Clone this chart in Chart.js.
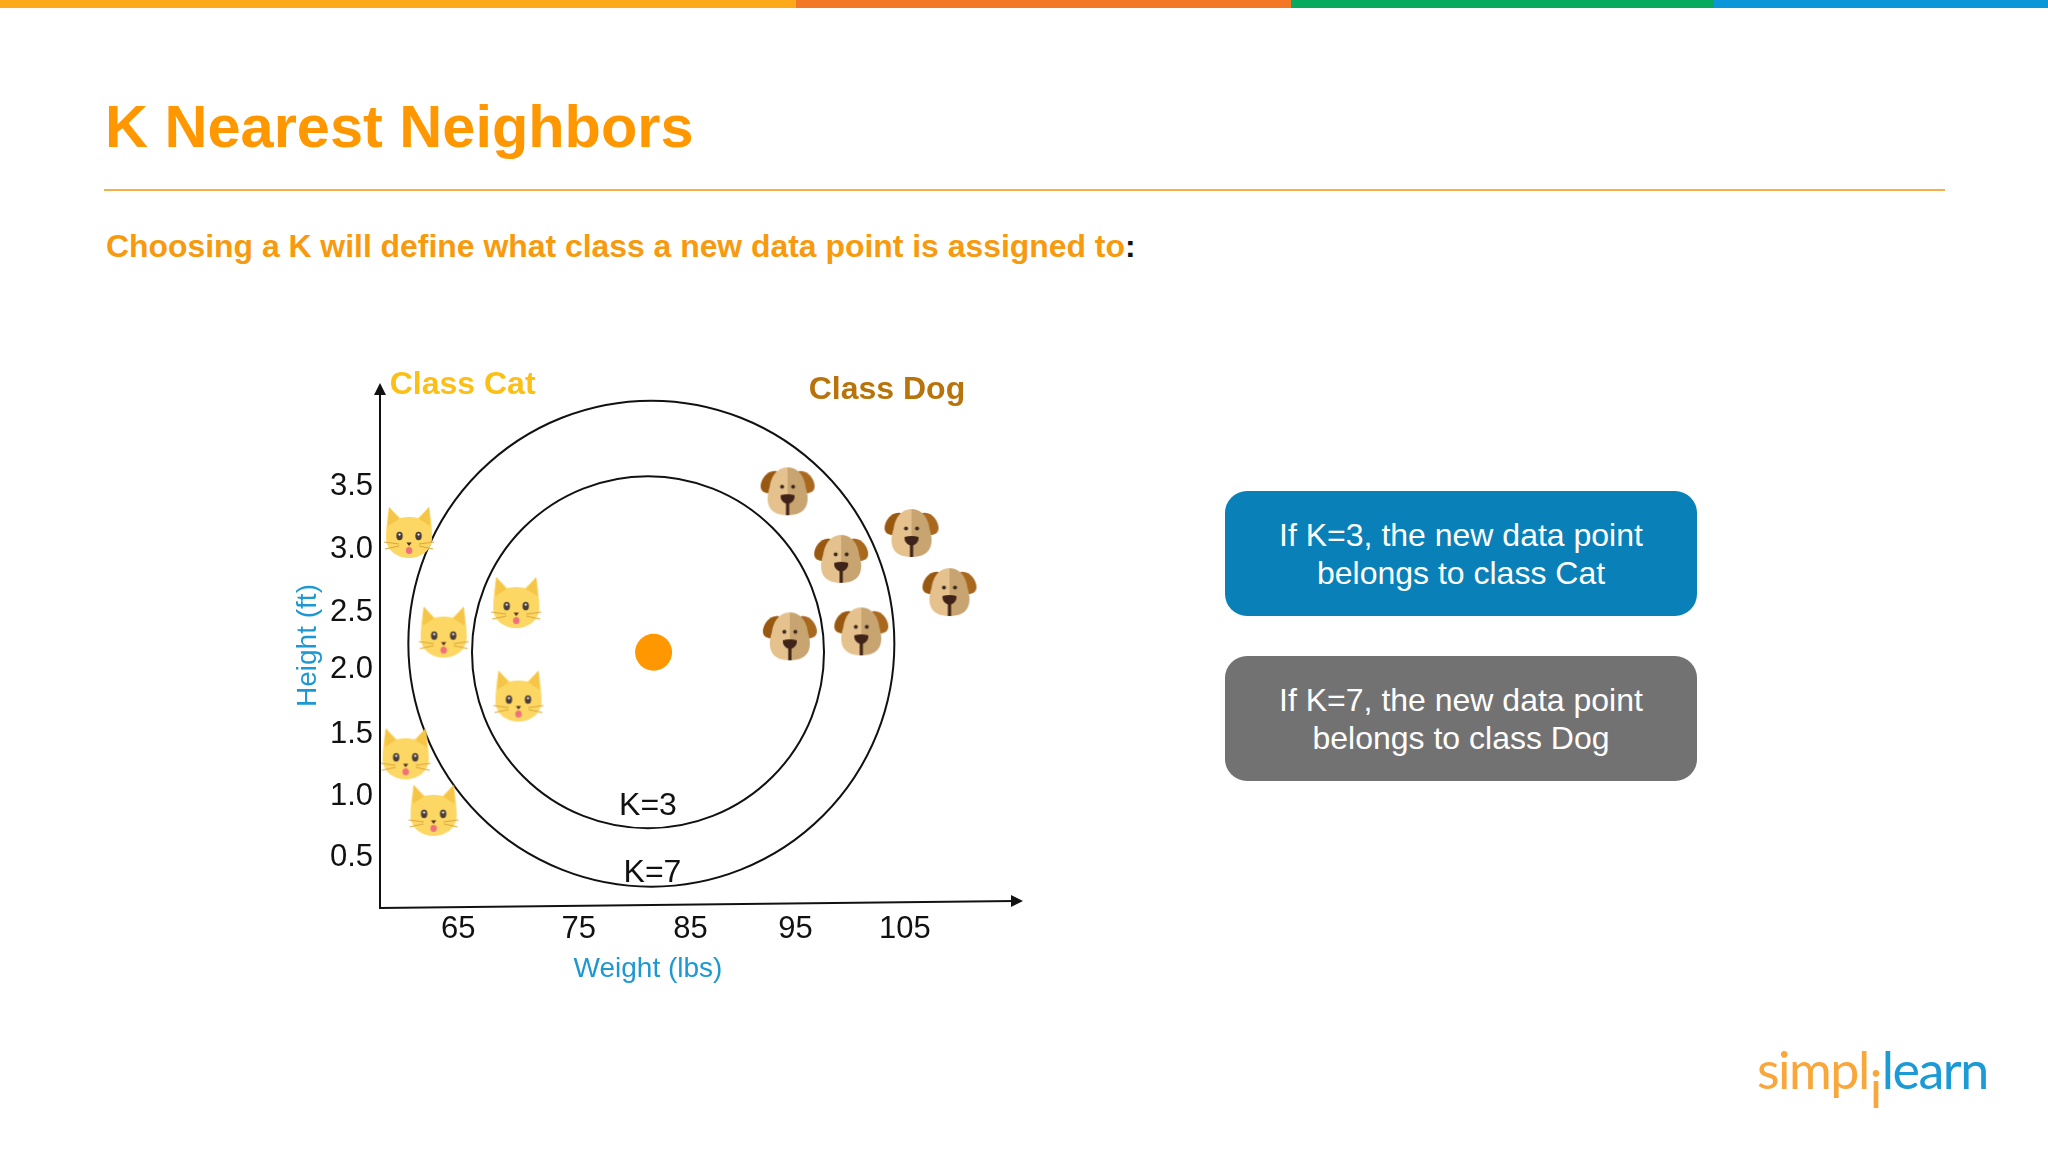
<!DOCTYPE html>
<html>
<head>
<meta charset="utf-8">
<title>K Nearest Neighbors</title>
<script src="https://cdn.jsdelivr.net/npm/chart.js@4"></script>
<style>
  html, body { margin: 0; padding: 0; background: #fff; }
  body { width: 2048px; height: 1152px; position: relative; overflow: hidden; font-family: "Liberation Sans", Arial, sans-serif; }
  .band { position: absolute; top: 0; height: 8px; }
  .title { position: absolute; left: 105px; top: 92px; font-size: 59.5px; line-height: 70px; font-weight: bold; color: #ff9800; white-space: nowrap; }
  .rule { position: absolute; left: 104px; width: 1841px; top: 189px; height: 2px; background: #f6b04a; }
  .subtitle { position: absolute; left: 106px; top: 226px; font-size: 31.9px; line-height: 40px; font-weight: bold; color: #f79a0e; white-space: nowrap; }
  .subtitle span { color: #111; }
  .box { position: absolute; left: 1225px; width: 472px; height: 125px; border-radius: 22px; color: #fff; font-size: 32px; line-height: 38px; text-align: center; display: flex; align-items: center; justify-content: center; }
  .logo { position: absolute; left: 1757px; top: 1038px; font-family: Lato, sans-serif; font-weight: 400; font-size: 52px; letter-spacing: -1.5px; line-height: 62px; white-space: nowrap; color: #f9a63a; }
  .logo i { font-style: normal; position: relative; top: 19px; margin: 0 1px; color: #f9a63a; }
  .logo b { font-weight: 400; color: #1b9ad6; }
  #chartWrap { position: absolute; left: 270px; top: 350px; width: 800px; height: 660px; }
</style>
</head>
<body>
<div class="band" style="left:0;width:796px;background:#fcaa1a"></div>
<div class="band" style="left:796px;width:495px;background:#f47725"></div>
<div class="band" style="left:1291px;width:423px;background:#05aa5e"></div>
<div class="band" style="left:1714px;width:334px;background:#0a96d9"></div>
<div class="title">K Nearest Neighbors</div>
<div class="rule"></div>
<div class="subtitle">Choosing a K will define what class a new data point is assigned to<span>:</span></div>
<div id="chartWrap"><canvas id="knnChart" width="800" height="660"></canvas></div>
<div class="box" style="top:491px;background:#0a80b8"><div>If K=3, the new data point<br>belongs to class Cat</div></div>
<div class="box" style="top:656px;background:#737273"><div>If K=7, the new data point<br>belongs to class Dog</div></div>
<div class="logo">simpl<i>i</i><b>learn</b></div>

<script>
const catX = [60.6, 63.7, 70.2, 70.4, 60.3, 62.8];
const catY = [3.11, 2.30, 2.54, 1.78, 1.31, 0.85];
const dogX = [94.5, 99.3, 105.6, 109.0, 94.7, 101.1];
const dogY = [3.45, 2.90, 3.11, 2.63, 2.27, 2.31];
const newPointX = [82.5];
const newPointY = [2.14];
const k3CenterX = [82.0];
const k3CenterY = [2.14];
const k7CenterX = [82.3];
const k7CenterY = [2.21];

const xTickLabels = ['65', '75', '85', '95', '105'];
const xTickSpots = [65, 75.8, 85.8, 95.2, 105];
const yTickLabels = ['0.5', '1.0', '1.5', '2.0', '2.5', '3.0', '3.5'];
const yTickSpots = [0.47, 0.97, 1.47, 2.0, 2.46, 2.98, 3.49];

const noteLabels = ['Class Cat', 'Class Dog', 'K=3', 'K=7'];
const noteX = [65.4, 103.4, 82.0, 82.4];
const noteY = [4.31, 4.27, 0.89, 0.34];
const noteColors = ['#fbbf16', '#b8740a', '#111', '#111'];
const noteWeights = ['bold', 'bold', 'normal', 'normal'];

const toPoints = (xs, ys) => xs.map((x, i) => ({ x, y: ys[i] }));

function makeIcon(draw) {
  const c = document.createElement('canvas');
  c.width = 64; c.height = 64;
  const g = c.getContext('2d');
  g.translate(32, 32);
  draw(g);
  return c;
}

function catShape(g) {
  g.beginPath();
  g.moveTo(-20, -26);
  g.lineTo(-9, -15);
  g.quadraticCurveTo(0, -17, 9, -15);
  g.lineTo(20, -26);
  g.quadraticCurveTo(23, -8, 23, 5);
  g.bezierCurveTo(23, 18, 11, 25, 0, 25);
  g.bezierCurveTo(-11, 25, -23, 18, -23, 5);
  g.quadraticCurveTo(-23, -8, -20, -26);
  g.closePath();
}

const catIcon = makeIcon(g => {
  catShape(g);
  g.fillStyle = '#fcd764';
  g.fill();
  // ear shading
  g.fillStyle = '#f5c548';
  g.beginPath(); g.moveTo(-20, -26); g.lineTo(-10, -14); g.lineTo(-21, -7); g.closePath(); g.fill();
  g.beginPath(); g.moveTo(20, -26); g.lineTo(10, -14); g.lineTo(21, -7); g.closePath(); g.fill();
  [-9.5, 9.5].forEach(ex => {
    g.fillStyle = '#4b3d38';
    g.beginPath(); g.ellipse(ex, 3, 3.2, 4.2, 0, 0, Math.PI * 2); g.fill();
    g.fillStyle = '#fff';
    g.beginPath(); g.arc(ex, 1.6, 1.1, 0, Math.PI * 2); g.fill();
  });
  g.fillStyle = '#4b2f22';
  g.beginPath(); g.moveTo(-2.6, 9.5); g.lineTo(2.6, 9.5); g.lineTo(0, 13); g.closePath(); g.fill();
  g.fillStyle = '#f0717c';
  g.beginPath(); g.ellipse(0, 17.5, 3.2, 3.6, 0, 0, Math.PI * 2); g.fill();
  g.strokeStyle = '#dca63a';
  g.lineWidth = 1;
  [[-10, 11, -25, 9], [-10, 13, -24, 16], [10, 11, 25, 9], [10, 13, 24, 16]].forEach(w => {
    g.beginPath(); g.moveTo(w[0], w[1]); g.lineTo(w[2], w[3]); g.stroke();
  });
});

function dogFace(g) {
  g.beginPath();
  g.moveTo(0, -24);
  g.bezierCurveTo(11, -24, 17, -14, 18, -4);
  g.bezierCurveTo(22, 8, 22, 24, 0, 24);
  g.bezierCurveTo(-22, 24, -22, 8, -18, -4);
  g.bezierCurveTo(-17, -14, -11, -24, 0, -24);
  g.closePath();
}

const dogIcon = makeIcon(g => {
  // ears
  g.fillStyle = '#98580f';
  g.beginPath();
  g.moveTo(-11, -20);
  g.bezierCurveTo(-20, -22, -27, -12, -27, -5);
  g.bezierCurveTo(-27, 0, -23, 2, -19, 2);
  g.lineTo(-10, -8);
  g.closePath(); g.fill();
  g.fillStyle = '#a8691f';
  g.beginPath();
  g.moveTo(11, -20);
  g.bezierCurveTo(20, -22, 27, -12, 27, -5);
  g.bezierCurveTo(27, 0, 23, 2, 19, 2);
  g.lineTo(10, -8);
  g.closePath(); g.fill();
  // face, two halves
  g.save();
  dogFace(g); g.clip();
  g.fillStyle = '#e4c18d'; g.fillRect(-30, -30, 30, 60);
  g.fillStyle = '#c7a470'; g.fillRect(0, -30, 30, 60);
  g.restore();
  g.fillStyle = '#3e2c22';
  g.beginPath(); g.arc(-5.5, -4.5, 2, 0, Math.PI * 2); g.fill();
  g.beginPath(); g.arc(5.5, -4.5, 2, 0, Math.PI * 2); g.fill();
  g.fillStyle = '#3f2218';
  g.beginPath();
  g.moveTo(-7, 4);
  g.quadraticCurveTo(0, 2, 7, 4);
  g.quadraticCurveTo(7.5, 10, 1.6, 12.5);
  g.lineTo(1.6, 24);
  g.lineTo(-1.6, 24);
  g.lineTo(-1.6, 12.5);
  g.quadraticCurveTo(-7.5, 10, -7, 4);
  g.closePath(); g.fill();
});

// the axis lines end in arrows, and the notes sit in data space
const slideParts = {
  id: 'slideParts',
  afterDraw(chart) {
    const { ctx, chartArea, scales } = chart;
    const ox = chartArea.left, oy = chartArea.bottom;
    ctx.save();
    ctx.strokeStyle = '#111';
    ctx.fillStyle = '#111';
    ctx.lineWidth = 2;
    ctx.beginPath();
    ctx.moveTo(ox, chartArea.top + 8);
    ctx.lineTo(ox, oy);
    ctx.lineTo(ox + 635, oy - 7);
    ctx.stroke();
    ctx.beginPath();
    ctx.moveTo(ox, chartArea.top);
    ctx.lineTo(ox + 6, chartArea.top + 12);
    ctx.lineTo(ox - 6, chartArea.top + 12);
    ctx.closePath();
    ctx.fill();
    ctx.beginPath();
    ctx.moveTo(ox + 643, oy - 7);
    ctx.lineTo(ox + 631, oy - 13);
    ctx.lineTo(ox + 631, oy - 1);
    ctx.closePath();
    ctx.fill();
    ctx.textAlign = 'center';
    ctx.textBaseline = 'middle';
    noteLabels.forEach((t, i) => {
      ctx.font = noteWeights[i] + ' ' + (i < 2 ? 32 : 32) + 'px "Liberation Sans"';
      ctx.fillStyle = noteColors[i];
      ctx.fillText(t, scales.x.getPixelForValue(noteX[i]), scales.y.getPixelForValue(noteY[i]));
    });
    ctx.restore();
  }
};

new Chart(document.getElementById('knnChart'), {
  type: 'scatter',
  data: {
    datasets: [
      { label: 'Class Cat', data: toPoints(catX, catY), pointStyle: catIcon, pointRadius: 30, clip: false },
      { label: 'Class Dog', data: toPoints(dogX, dogY), pointStyle: dogIcon, pointRadius: 40, clip: false },
      { label: 'New data point', data: toPoints(newPointX, newPointY), pointRadius: 18.5, pointBorderWidth: 0, pointBackgroundColor: '#ff9800', clip: false },
      { label: 'K=3', data: toPoints(k3CenterX, k3CenterY), pointRadius: 176, pointBorderWidth: 2, pointBorderColor: '#111', pointBackgroundColor: 'transparent', clip: false },
      { label: 'K=7', data: toPoints(k7CenterX, k7CenterY), pointRadius: 243, pointBorderWidth: 2, pointBorderColor: '#111', pointBackgroundColor: 'transparent', clip: false }
    ]
  },
  options: {
    responsive: false,
    animation: false,
    layout: { autoPadding: false, padding: { top: 33, right: 154 } },
    plugins: { legend: { display: false }, tooltip: { enabled: false } },
    scales: {
      x: {
        type: 'linear',
        min: 58,
        max: 106,
        grid: { display: false, drawTicks: false },
        border: { display: false },
        afterFit: s => { s.height = 102; },
        afterBuildTicks: s => { s.ticks = xTickSpots.map(value => ({ value })); },
        ticks: { color: '#111', font: { family: 'Liberation Sans', size: 31 }, padding: 3, maxRotation: 0, autoSkip: false, callback: (v, i) => xTickLabels[i] },
        title: { display: true, text: 'Weight (lbs)', color: '#1e98d2', font: { family: 'Liberation Sans', size: 28 }, padding: { top: 0, bottom: 24 } }
      },
      y: {
        type: 'linear',
        min: 0.06,
        max: 4.33,
        grid: { display: false, drawTicks: false },
        border: { display: false },
        afterFit: s => { s.width = 110; },
        afterBuildTicks: s => { s.ticks = yTickSpots.map(value => ({ value })); },
        ticks: { color: '#111', font: { family: 'Liberation Sans', size: 31 }, padding: 7, autoSkip: false, callback: (v, i) => yTickLabels[i] },
        title: { display: true, text: 'Height (ft)', color: '#1e98d2', font: { family: 'Liberation Sans', size: 28 }, padding: { top: 21, bottom: 21 } }
      }
    }
  },
  plugins: [slideParts]
});
</script>
</body>
</html>
